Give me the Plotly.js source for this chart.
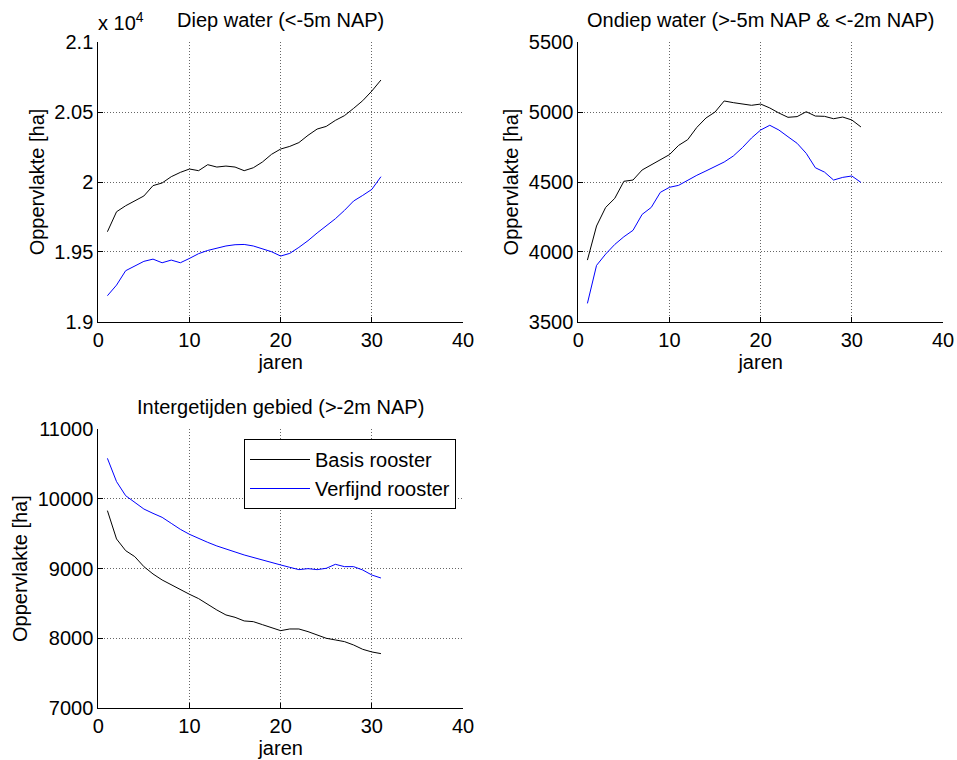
<!DOCTYPE html>
<html>
<head>
<meta charset="utf-8">
<script src="https://cdn.plot.ly/plotly-3.0.1.min.js"></script>
<style>html,body{margin:0;padding:0;background:#fff;}#chart{width:957px;height:760px;}</style>
</head>
<body>
<div id="chart"></div>
<script>
// ---- data ----
const jaren = [1,2,3,4,5,6,7,8,9,10,11,12,13,14,15,16,17,18,19,20,21,22,23,24,25,26,27,28,29,30,31];

const diepBasis = [19644,19787,19830,19864,19900,19974,19993,20038,20069,20093,20081,20124,20107,20114,20107,20081,20102,20143,20198,20236,20255,20282,20334,20379,20398,20441,20475,20527,20582,20651,20730];
const diepVerfijnd = [19186,19262,19365,19401,19432,19448,19422,19441,19422,19453,19487,19510,19527,19542,19551,19553,19542,19520,19501,19470,19489,19532,19580,19635,19685,19737,19797,19864,19904,19947,20038];

const ondiepBasis = [3941,4185,4318,4383,4505,4514,4586,4622,4657,4696,4762,4803,4891,4958,5001,5080,5068,5058,5049,5058,5030,4994,4963,4968,5003,4972,4970,4953,4965,4944,4894];
const ondiepVerfijnd = [3631,3903,3984,4053,4108,4154,4268,4318,4426,4462,4476,4514,4548,4579,4610,4643,4686,4746,4815,4872,4906,4872,4824,4777,4705,4602,4571,4514,4533,4543,4497];

const interBasis = [9831,9425,9258,9172,9029,8924,8838,8766,8695,8633,8571,8485,8408,8337,8303,8251,8241,8198,8160,8112,8136,8136,8098,8050,8003,7979,7955,7907,7845,7807,7783];
const interVerfijnd = [10580,10246,10045,9945,9854,9792,9735,9649,9563,9492,9430,9377,9325,9277,9239,9196,9158,9119,9081,9053,9019,8986,9000,8986,9005,9062,9029,9029,8981,8909,8866];

const seriesNames = ["Basis rooster", "Verfijnd rooster"];
const titles = ["Diep water (<-5m NAP)", "Ondiep water (>-5m NAP & <-2m NAP)", "Intergetijden gebied (>-2m NAP)"];
const xLabel = "jaren";
const yLabel = "Oppervlakte [ha]";
const xTicks = [0,10,20,30,40];
const diepTickVals = [19000,19500,20000,20500,21000];
const diepTickText = ["1.9","1.95","2","2.05","2.1"];
const ondiepTickVals = [3500,4000,4500,5000,5500];
const interTickVals = [7000,8000,9000,10000,11000];

// ---- plotting ----
const W = 957, H = 760;
const font = {family: "Liberation Sans, Arial, sans-serif", size: 20, color: "#000"};
const tfont = {family: "Liberation Sans, Arial, sans-serif", size: 20, color: "#000"};
const colBasis = "#000000", colVerf = "#0000ff";

function tr(x, y, name, color, xa, ya, show) {
  return {x: x, y: y, name: name, type: "scatter", mode: "lines",
    line: {color: color, width: 1}, xaxis: xa, yaxis: ya, showlegend: show};
}
const data = [
  tr(jaren, diepBasis, seriesNames[0], colBasis, "x", "y", false),
  tr(jaren, diepVerfijnd, seriesNames[1], colVerf, "x", "y", false),
  tr(jaren, ondiepBasis, seriesNames[0], colBasis, "x2", "y2", false),
  tr(jaren, ondiepVerfijnd, seriesNames[1], colVerf, "x2", "y2", false),
  tr(jaren, interBasis, seriesNames[0], colBasis, "x3", "y3", true),
  tr(jaren, interVerfijnd, seriesNames[1], colVerf, "x3", "y3", true)
];

const px = v => v / W, py = v => 1 - v / H;
const dom1x = [px(98.3), px(463)], dom2x = [px(578.3), px(943)];
const domTop = [py(321.7), py(42.3)], domBot = [py(708.3), py(429)];
const gridDash = "1px,2px", gridCol = "#666";

function xax(domain, anchor) {
  return {domain: domain, anchor: anchor, range: [0, 40], tickvals: xTicks, ticktext: xTicks.map(String),
    showgrid: true, gridcolor: gridCol, griddash: gridDash, gridwidth: 1,
    showline: true, linecolor: "#000", linewidth: 1, mirror: false,
    ticks: "inside", ticklen: 5, tickcolor: "#000", zeroline: false, ticklabelstandoff: 0,
    tickfont: font, title: {text: xLabel, font: font, standoff: 4}, fixedrange: true};
}
function yax(domain, anchor, range, vals, text) {
  return {domain: domain, anchor: anchor, range: range, tickvals: vals, ticktext: text || vals.map(String),
    showgrid: true, gridcolor: gridCol, griddash: gridDash, gridwidth: 1,
    showline: true, linecolor: "#000", linewidth: 1, mirror: false,
    ticks: "inside", ticklen: 5, tickcolor: "#000", zeroline: false,
    tickfont: font, title: {text: yLabel, font: font, standoff: 4}, fixedrange: true};
}

const layout = {
  width: W, height: H, margin: {l: 0, r: 0, t: 0, b: 0},
  paper_bgcolor: "#fff", plot_bgcolor: "#fff", font: font,
  xaxis: xax(dom1x, "y"),
  yaxis: yax(domTop, "x", [19000, 21000], diepTickVals, diepTickText),
  xaxis2: xax(dom2x, "y2"),
  yaxis2: yax(domTop, "x2", [3500, 5500], ondiepTickVals),
  xaxis3: xax(dom1x, "y3"),
  yaxis3: yax(domBot, "x3", [7000, 11000], interTickVals),
  legend: {x: px(456), y: py(439), xanchor: "right", yanchor: "top", itemwidth: 60,
    bgcolor: "#fff", bordercolor: "#000", borderwidth: 1, font: font, tracegroupgap: 0},
  annotations: [
    {text: titles[0], x: (dom1x[0]+dom1x[1])/2, y: py(20), xref: "paper", yref: "paper", showarrow: false, font: tfont, xanchor: "center", yanchor: "middle"},
    {text: titles[1], x: (dom2x[0]+dom2x[1])/2, y: py(20), xref: "paper", yref: "paper", showarrow: false, font: tfont, xanchor: "center", yanchor: "middle"},
    {text: titles[2], x: (dom1x[0]+dom1x[1])/2, y: py(407), xref: "paper", yref: "paper", showarrow: false, font: tfont, xanchor: "center", yanchor: "middle"},
    {text: "x 10<sup>4</sup>", x: px(96), y: py(22), xref: "paper", yref: "paper", showarrow: false, font: font, xanchor: "left", yanchor: "middle"}
  ]
};

Plotly.newPlot("chart", data, layout, {displayModeBar: false, staticPlot: true});
</script>
</body>
</html>
